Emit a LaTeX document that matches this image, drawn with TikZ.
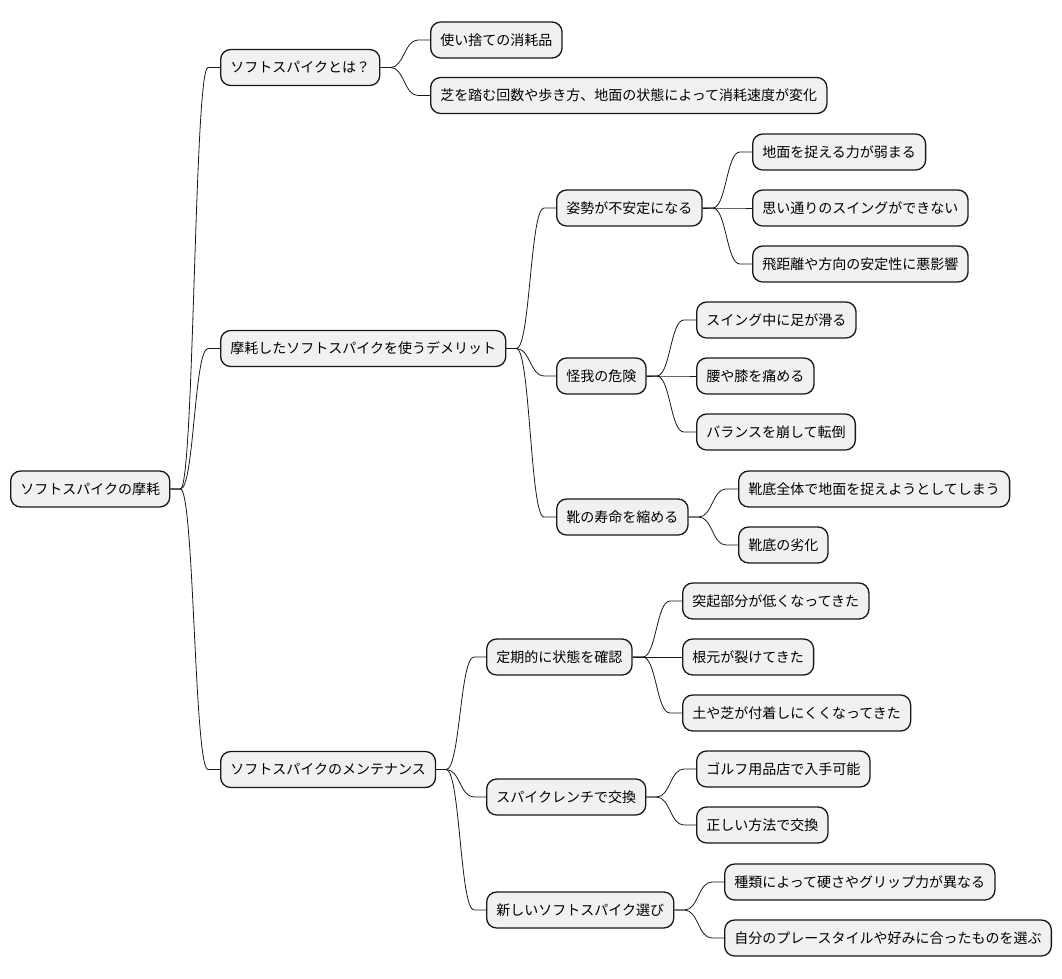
\documentclass[tikz,border=0pt]{standalone}
\usepackage{fontspec}
\newfontfamily\jp{Noto Sans CJK JP}
\usetikzlibrary{calc}
\definecolor{boxfill}{HTML}{F1F1F1}
\definecolor{boxline}{HTML}{181818}
\tikzset{
  mmnode/.style={draw=boxline, fill=boxfill, line width=1.3pt, rounded corners=10pt,
    anchor=west, minimum height=36pt, inner xsep=9.7pt, inner ysep=0pt,
    text height=12pt, text depth=2pt, font=\jp\fontsize{14}{16}\selectfont},
  mm/.style={to path={let \p1=(\tikztostart), \p2=(\tikztotarget), \n1={(\x1+\x2)/2-1pt} in
    -- (\x1+10pt,\y1) .. controls (\n1,\y1) and (\n1,\y2) .. (\x2-12pt,\y2) -- (\p2)}},
  conn/.style={draw=boxline, line width=0.8pt}
}
\begin{document}
\begin{tikzpicture}[x=1pt,y=-1pt]
\useasboundingbox (0,0) rectangle (1062,978);
% root
\node[mmnode] (r) at (10,489) {ソフトスパイクの摩耗};
% level 1
\node[mmnode] (a) at (220,67.5) {ソフトスパイクとは？};
\node[mmnode] (b) at (220,348.5) {摩耗したソフトスパイクを使うデメリット};
\node[mmnode] (c) at (220,769.5) {ソフトスパイクのメンテナンス};
% a children
\node[mmnode] (a1) at (430,40) {使い捨ての消耗品};
\node[mmnode] (a2) at (430,95.5) {芝を踏む回数や歩き方、地面の状態によって消耗速度が変化};
% b children
\node[mmnode] (b1) at (556,208) {姿勢が不安定になる};
\node[mmnode] (b2) at (556,376) {怪我の危険};
\node[mmnode] (b3) at (556,517) {靴の寿命を縮める};
\node[mmnode] (b11) at (752,152) {地面を捉える力が弱まる};
\node[mmnode] (b12) at (752,208) {思い通りのスイングができない};
\node[mmnode] (b13) at (752,264) {飛距離や方向の安定性に悪影響};
\node[mmnode] (b21) at (696,320) {スイング中に足が滑る};
\node[mmnode] (b22) at (696,376) {腰や膝を痛める};
\node[mmnode] (b23) at (696,432) {バランスを崩して転倒};
\node[mmnode] (b31) at (738,489) {靴底全体で地面を捉えようとしてしまう};
\node[mmnode] (b32) at (738,545) {靴底の劣化};
% c children
\node[mmnode] (c1) at (486,657) {定期的に状態を確認};
\node[mmnode] (c2) at (486,797) {スパイクレンチで交換};
\node[mmnode] (c3) at (486,910) {新しいソフトスパイク選び};
\node[mmnode] (c11) at (682,601) {突起部分が低くなってきた};
\node[mmnode] (c12) at (682,657) {根元が裂けてきた};
\node[mmnode] (c13) at (682,713) {土や芝が付着しにくくなってきた};
\node[mmnode] (c21) at (696,769) {ゴルフ用品店で入手可能};
\node[mmnode] (c22) at (696,825) {正しい方法で交換};
\node[mmnode] (c31) at (724,882) {種類によって硬さやグリップ力が異なる};
\node[mmnode] (c32) at (724,938) {自分のプレースタイルや好みに合ったものを選ぶ};
% connectors
\foreach \p/\c in {r/a, r/b, r/c, a/a1, a/a2, b/b1, b/b2, b/b3,
  b1/b11, b1/b12, b1/b13, b2/b21, b2/b22, b2/b23, b3/b31, b3/b32,
  c/c1, c/c2, c/c3, c1/c11, c1/c12, c1/c13, c2/c21, c2/c22, c3/c31, c3/c32}
  \draw[conn] (\p.east) to[mm] (\c.west);
\end{tikzpicture}
\end{document}
